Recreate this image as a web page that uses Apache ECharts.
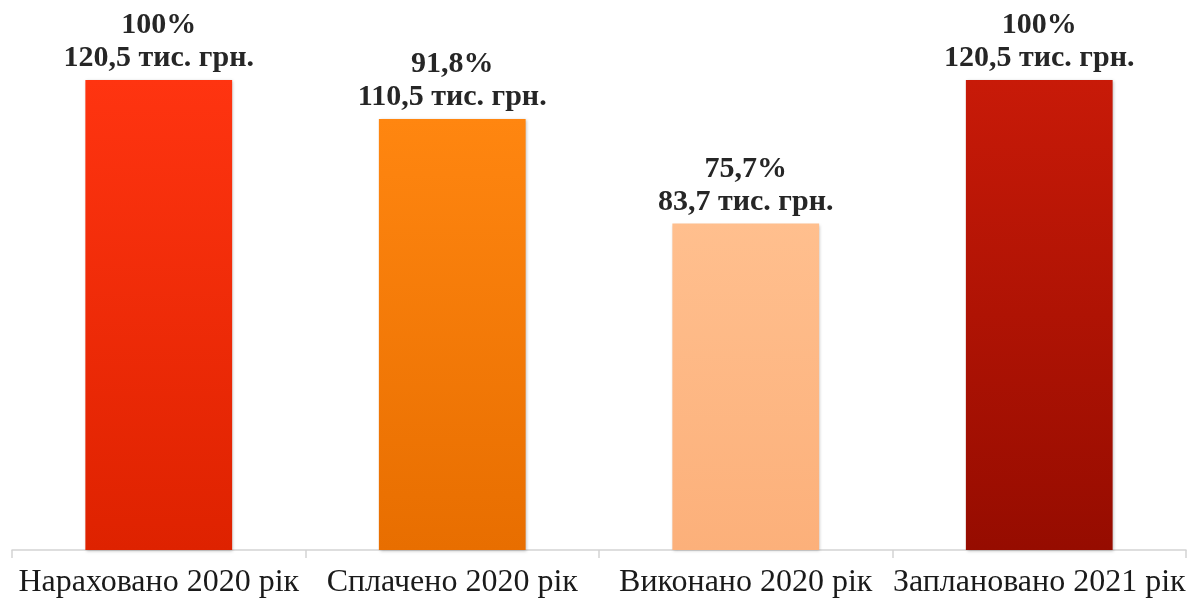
<!DOCTYPE html>
<html><head><meta charset="utf-8">
<script src="https://cdn.jsdelivr.net/npm/echarts@6/dist/echarts.min.js"></script>
<style>html,body{margin:0;padding:0;background:#fff}#c{width:1191px;height:606px}</style>
</head><body><div id="c"></div>
<script>
const categories = ['Нараховано 2020 рік', 'Сплачено 2020 рік', 'Виконано 2020 рік', 'Заплановано 2021 рік'];
const values = [120.5, 110.5, 83.7, 120.5];
const percents = ['100%', '91,8%', '75,7%', '100%'];
const topColors = ['#ff3410', '#ff8610', '#ffbf8e', '#c81a08'];
const bottomColors = ['#de2200', '#e86e00', '#fcb07a', '#960c00'];

const chart = echarts.init(document.getElementById('c'));
const data = values.map((v, i) => ({
  value: v,
  itemStyle: {
    color: new echarts.graphic.LinearGradient(0, 0, 0, 1, [
      { offset: 0, color: topColors[i] },
      { offset: 1, color: bottomColors[i] }
    ]),
    shadowColor: 'rgba(0,0,0,0.25)', shadowBlur: 3, shadowOffsetX: 1, shadowOffsetY: 1
  }
}));
chart.setOption({
  animation: false,
  grid: { left: 12, right: 5, top: 80, bottom: 56, containLabel: false },
  xAxis: {
    type: 'category', data: categories,
    axisLine: { lineStyle: { color: '#d4d4d4', width: 1.5 } },
    axisTick: { show: true, length: 8, lineStyle: { color: '#d4d4d4', width: 1.5 } },
    axisLabel: { color: '#1a1a1a', fontFamily: 'Liberation Serif', fontSize: 32, margin: 17, interval: 0 }
  },
  yAxis: { type: 'value', min: 0, max: 120.5, show: false, splitLine: { show: false } },
  series: [{
    type: 'bar', barWidth: '50%', data: data,
    label: {
      show: true, position: 'top', distance: 5,
      fontFamily: 'Liberation Serif', fontWeight: 'bold', fontSize: 30, color: '#262626', lineHeight: 33,
      formatter: p => percents[p.dataIndex] + '\n' + String(values[p.dataIndex]).replace('.', ',') + ' тис. грн.'
    }
  }]
});
</script></body></html>
